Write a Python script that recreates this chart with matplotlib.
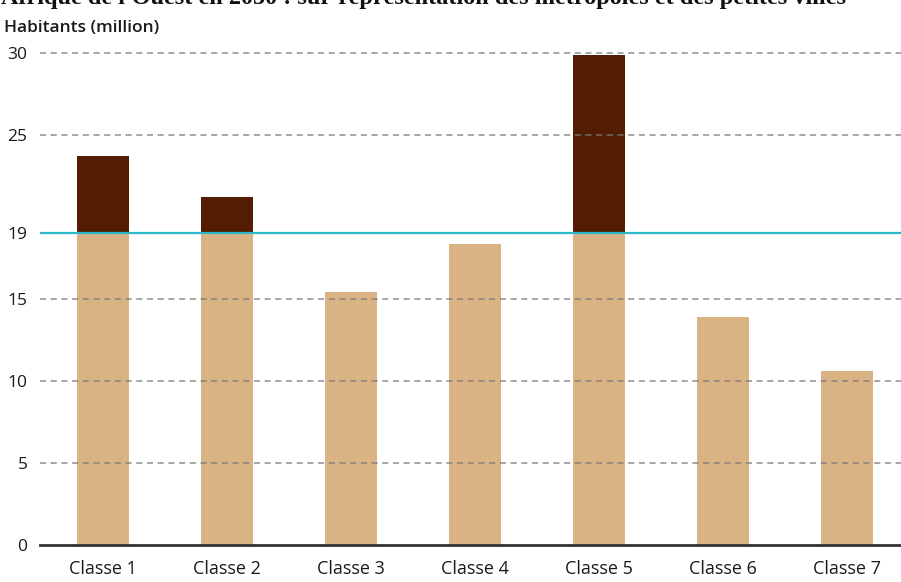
import numpy as np
import matplotlib
matplotlib.use("Agg")
import matplotlib.pyplot as plt

# data
classes = ["Classe 1", "Classe 2", "Classe 3", "Classe 4", "Classe 5", "Classe 6", "Classe 7"]
habitants = [23.7, 21.2, 15.4, 18.35, 29.9, 13.9, 10.6]
seuil = 19  # reference line
yticks = [0, 5, 10, 15, 19, 25, 30]

titre = "Afrique de l'Ouest en 2050 : sur-représentation des métropoles et des petites villes"

LIGHT = "#d9b384"
DARK = "#521d03"
CYAN = "#2cb8c9"

plt.rcParams['font.family'] = ['Open Sans', 'DejaVu Sans']

fig = plt.figure(figsize=(9.01, 5.82), dpi=100)
ax = fig.add_axes([0.0444, 0.0636, 0.9556, 0.851])

x = np.arange(len(classes))
vals = np.array(habitants)
base = np.minimum(vals, seuil)
top = np.clip(vals - seuil, 0, None)

ax.bar(x, base, width=0.42, color=LIGHT, zorder=1)
ax.bar(x, top, width=0.42, bottom=base, color=DARK, zorder=1)

# dashed grid drawn over the bars
for t in yticks:
    if t not in (0, seuil):
        ax.axhline(t, color="#7a7a7a", lw=1.1, ls=(0, (4, 3)), zorder=2, alpha=0.85)
ax.axhline(seuil, color=CYAN, lw=1.6, zorder=3)

ax.set_xlim(-0.508, 6.435)
ax.set_ylim(0, 30.2)
ax.set_yticks(yticks)
ax.set_yticklabels([str(t) for t in yticks], fontsize=12.5, color="#1a1a1a")
ax.set_xticks(x)
ax.set_xticklabels(classes, fontsize=13, color="#1a1a1a")
ax.tick_params(axis='y', length=0, pad=9)
ax.tick_params(axis='x', length=0, pad=11)

for s in ("top", "right", "left"):
    ax.spines[s].set_visible(False)
ax.spines["bottom"].set_color("#333333")
ax.spines["bottom"].set_linewidth(2)
ax.spines["bottom"].set_zorder(4)

fig.text(0.004, 0.952, "Habitants (million)", fontsize=12.5, fontweight="semibold",
         ha="left", va="center", color="#1a1a1a")
fig.text(0.001, 1.002, titre, family=["Liberation Serif", "DejaVu Serif"],
         fontsize=17.5, fontweight="bold", ha="left", va="center", color="#111111")

fig.savefig("out.png", dpi=100)
